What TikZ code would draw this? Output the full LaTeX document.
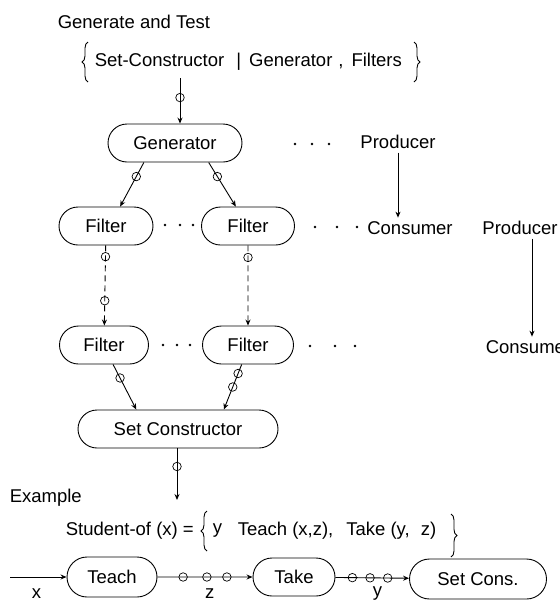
\documentclass[tikz,border=0pt]{standalone}
\usepackage{fontspec}
\setmainfont{Liberation Sans}
\usepackage{tikz}
\usetikzlibrary{shapes.misc, arrows.meta, positioning, decorations.pathreplacing}

\begin{document}
\begin{tikzpicture}[x=1pt, y=-1pt, line width=0.9pt,
  font=\fontsize{18.5}{22}\selectfont,
  >={Stealth[length=6pt, width=5pt]},
  proc/.style={draw, rounded rectangle, minimum height=38pt, inner sep=0pt},
  tok/.style={draw, solid, circle, inner sep=0pt, minimum size=8.5pt, line width=0.7pt},
  curly/.style={decorate, decoration={brace, amplitude=6pt}}]
  \useasboundingbox (0,0) rectangle (560,603);

  \node[anchor=west] (title) at (54,22) {Generate and Test};
  \node[anchor=west] (setdef) at (91,62)
    {Set-Constructor\hspace{12pt}|\hspace{8pt}Generator\hspace{6pt},\hspace{8pt}Filters};
  \draw[curly] (88,82) -- (88,42);
  \draw[curly] (414,42) -- (414,82);

  \coordinate (gtin) at (180,78);
  \node[proc, minimum width=134pt] (gen) at (175,143) {Generator};
  \draw[->] (gtin) -- (gtin |- gen.north) node[tok, pos=0.43] {};

  \node (prod1) at (398,142) {Producer};
  \node (cons1) at (410,228) {Consumer};
  \draw[->] (prod1.south) -- (prod1.south |- cons1.north);

  \node[proc, minimum width=94pt] (f1) at (106,226) {Filter};
  \node[proc, minimum width=93pt] (f2) at (248,226) {Filter};
  \node[proc, minimum width=89pt] (f3) at (104,345) {Filter};
  \node[proc, minimum width=91pt] (f4) at (248,345) {Filter};
  \node[proc, minimum width=200pt] (sc) at (178,429) {Set Constructor};

  \foreach \x/\y in {295/144, 312/144, 329/144, 165/225, 180/225, 193/225,
                     315/227, 337/227, 357/227, 163/345, 177/345, 190/345,
                     310/346, 335/346, 355/346}
    \fill (\x,\y) circle (1.4);

  \draw[->] (gen.212) -- (f1.54) node[tok, pos=0.32] {};
  \draw[->] (gen.330) -- (f2.122) node[tok, pos=0.32] {};
  \draw[->, dash pattern=on 6pt off 4pt] (f1) -- (f3)
    node[tok, pos=0.14] {} node[tok, pos=0.69] {};
  \draw[->, dash pattern=on 6pt off 4pt] (f2) -- (f4) node[tok, pos=0.15] {};
  \draw[->] (f3.295) -- (sc.155) node[tok, pos=0.3] {};
  \draw[->] (f4.252) -- (sc.23) node[tok, pos=0.2] {} node[tok, pos=0.5] {};

  \node (prod2) at (520,228) {Producer};
  \node[anchor=west] (cons2) at (482,347) {Consumer};
  \draw[->] ([xshift=12pt]prod2.south) -- ([xshift=12pt]prod2.south |- cons2.north);

  \coordinate (scout) at (177,500);
  \draw[->] (sc.south -| scout) -- (scout) node[tok, pos=0.35] {};

  \node[anchor=west] (example) at (6,498) {Example};
  \node[anchor=west] (stud) at (62,531) {Student-of (x) =};
  \draw[curly] (207,551) -- (207,511);
  \node[anchor=west] (ydef) at (209,531) {y};
  \node[anchor=west] (cond) at (234,531)
    {Teach (x,z),\hspace{0.7em}Take (y,\hspace{0.6em}z)};
  \draw[curly] (451,514) -- (451,557);

  \coordinate (xin) at (10,577);
  \node[proc, minimum width=90pt, minimum height=40pt] (teach) at (112,577) {Teach};
  \node[proc, minimum width=82pt] (take) at (294,577) {Take};
  \node[proc, minimum width=137pt, minimum height=40pt] (setcons) at (478,579) {Set Cons.};

  \draw[->] (xin) -- (teach) node[pos=0.47, yshift=-21pt, anchor=base] {x};
  \draw[->] (teach) -- (take)
    node[tok, pos=0.27] {} node[tok, pos=0.52] {} node[tok, pos=0.73] {}
    node[pos=0.55, yshift=-21pt, anchor=base] {z};
  \draw[->] (take) -- (setcons)
    node[tok, pos=0.23] {} node[tok, pos=0.47] {} node[tok, pos=0.71] {}
    node[pos=0.57, yshift=-19pt, anchor=base] {y};
\end{tikzpicture}
\end{document}
